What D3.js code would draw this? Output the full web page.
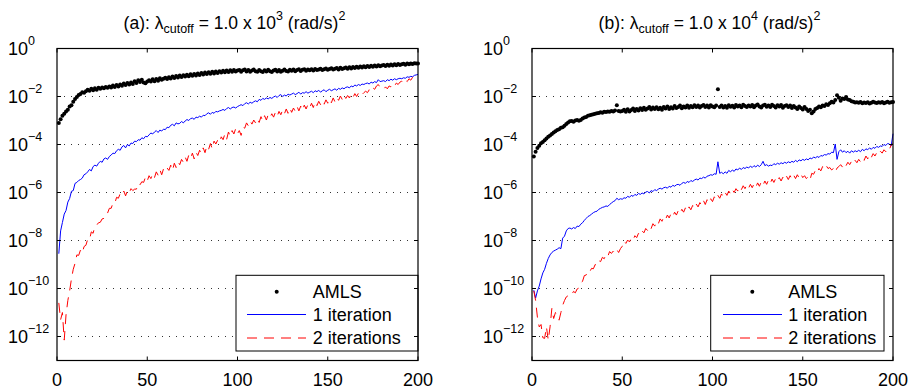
<!DOCTYPE html>
<html>
<head>
<meta charset="utf-8">
<script src="https://cdn.jsdelivr.net/npm/d3@7"></script>
<style>
  body { margin: 0; background: #fff; }
  svg { display: block; font-family: "Liberation Sans", Arial, sans-serif; }
</style>
</head>
<body>
<svg id="chart" width="908" height="392"></svg>
<script>
// log10 of the relative error, one value per mode (index 1..200)
const amlsA = [
  -3.10, -2.95, -2.80, -2.72, -2.62, -2.55, -2.42, -2.36, -2.22, -2.10,
  -2.02, -1.94, -1.90, -1.82, -1.84, -1.78, -1.72, -1.76, -1.68, -1.74,
  -1.66, -1.72, -1.64, -1.68, -1.62, -1.66, -1.60, -1.64, -1.58, -1.62,
  -1.54, -1.60, -1.52, -1.58, -1.50, -1.55, -1.46, -1.52, -1.44, -1.50,
  -1.42, -1.48, -1.36, -1.44, -1.32, -1.40, -1.30, -1.42, -1.45, -1.38,
  -1.32, -1.38, -1.28, -1.36, -1.27, -1.34, -1.24, -1.30, -1.26, -1.22,
  -1.27, -1.20, -1.25, -1.17, -1.23, -1.15, -1.21, -1.13, -1.19, -1.11,
  -1.17, -1.09, -1.16, -1.07, -1.14, -1.06, -1.12, -1.04, -1.10, -1.02,
  -1.08, -1.00, -1.06, -0.99, -1.05, -0.97, -1.04, -0.96, -1.02, -0.95,
  -1.00, -0.93, -0.99, -0.92, -0.98, -0.91, -0.97, -0.90, -0.96, -0.92,
  -0.90, -0.97, -0.91, -0.88, -0.96, -0.90, -0.97, -0.92, -0.88, -0.95,
  -0.97, -0.90, -0.95, -0.98, -0.91, -0.96, -0.89, -0.95, -0.98, -0.92,
  -0.89, -0.96, -0.90, -0.97, -0.93, -0.88, -0.94, -0.96, -0.89, -0.93,
  -0.88, -0.95, -0.90, -0.86, -0.94, -0.89, -0.86, -0.93, -0.88, -0.91,
  -0.86, -0.92, -0.85, -0.90, -0.87, -0.84, -0.90, -0.86, -0.83, -0.89,
  -0.85, -0.82, -0.88, -0.84, -0.81, -0.87, -0.80, -0.85, -0.82, -0.79,
  -0.84, -0.78, -0.83, -0.77, -0.81, -0.76, -0.80, -0.75, -0.79, -0.74,
  -0.78, -0.73, -0.77, -0.72, -0.76, -0.71, -0.75, -0.70, -0.74, -0.71,
  -0.69, -0.73, -0.68, -0.72, -0.67, -0.71, -0.66, -0.70, -0.65, -0.69,
  -0.66, -0.64, -0.68, -0.63, -0.66, -0.62, -0.65, -0.61, -0.63, -0.62
];
const iter1A = [
  -8.55, -7.60, -7.25, -6.90, -6.75, -6.40, -6.25, -5.95, -5.92, -5.62,
  -5.58, -5.50, -5.46, -5.40, -5.26, -5.22, -5.14, -5.04, -5.10, -4.92,
  -4.86, -4.90, -4.78, -4.70, -4.74, -4.60, -4.56, -4.62, -4.50, -4.44,
  -4.36, -4.38, -4.26, -4.20, -4.24, -4.10, -4.04, -4.14, -4.00, -4.06,
  -3.94, -3.96, -3.86, -3.88, -3.80, -3.82, -3.72, -3.76, -3.66, -3.68,
  -3.60, -3.52, -3.56, -3.48, -3.42, -3.50, -3.40, -3.44, -3.36, -3.38,
  -3.28, -3.30, -3.20, -3.16, -3.22, -3.10, -3.14, -3.12, -3.04, -3.10,
  -3.02, -2.96, -3.00, -2.92, -2.90, -2.95, -2.86, -2.88, -2.82, -2.86,
  -2.78, -2.80, -2.72, -2.68, -2.74, -2.66, -2.70, -2.62, -2.64, -2.60,
  -2.58, -2.54, -2.58, -2.50, -2.46, -2.52, -2.46, -2.44, -2.48, -2.42,
  -2.38, -2.34, -2.38, -2.30, -2.26, -2.31, -2.24, -2.28, -2.22, -2.18,
  -2.22, -2.12, -2.16, -2.08, -2.12, -2.06, -2.10, -2.04, -2.08, -2.02,
  -1.98, -2.04, -1.96, -1.92, -2.00, -1.94, -1.98, -1.90, -1.94, -1.90,
  -1.86, -1.92, -1.88, -1.82, -1.90, -1.84, -1.86, -1.80, -1.86, -1.82,
  -1.78, -1.84, -1.76, -1.80, -1.74, -1.82, -1.76, -1.72, -1.80, -1.74,
  -1.70, -1.76, -1.72, -1.68, -1.74, -1.66, -1.70, -1.64, -1.68, -1.62,
  -1.60, -1.64, -1.56, -1.60, -1.52, -1.56, -1.50, -1.54, -1.48, -1.50,
  -1.46, -1.44, -1.48, -1.40, -1.44, -1.38, -1.42, -1.30, -1.38, -1.36,
  -1.34, -1.38, -1.30, -1.34, -1.28, -1.32, -1.26, -1.30, -1.26, -1.24,
  -1.26, -1.22, -1.24, -1.18, -1.20, -1.16, -1.18, -1.12, -1.10, -1.08
];
const iter2A = [
  -10.60, -11.30, -11.00, -12.15, -11.10, -10.50, -10.10, -9.60, -9.20, -8.95,
  -8.60, -8.62, -8.40, -8.52, -8.25, -8.20, -7.95, -7.98, -7.64, -7.70,
  -7.40, -7.36, -7.26, -7.24, -7.10, -7.08, -6.88, -6.86, -6.66, -6.66,
  -6.44, -6.46, -6.20, -6.24, -6.05, -6.12, -5.94, -6.14, -5.92, -6.02,
  -5.84, -5.92, -5.86, -5.86, -5.62, -5.68, -5.55, -5.58, -5.36, -5.52,
  -5.30, -5.42, -5.22, -5.38, -5.14, -5.28, -5.05, -5.26, -5.02, -5.12,
  -4.98, -5.08, -4.86, -5.08, -4.78, -4.96, -4.72, -4.84, -4.62, -4.74,
  -4.52, -4.70, -4.44, -4.58, -4.36, -4.60, -4.32, -4.46, -4.24, -4.38,
  -4.14, -4.34, -4.06, -4.20, -3.96, -4.18, -3.86, -3.98, -3.82, -3.92,
  -3.68, -3.80, -3.56, -3.78, -3.48, -3.66, -3.42, -3.56, -3.34, -3.55,
  -3.42, -3.62, -3.28, -3.32, -3.10, -3.22, -3.02, -3.15, -2.98, -3.10,
  -2.92, -3.08, -2.84, -3.02, -2.80, -2.98, -2.76, -2.88, -2.72, -2.86,
  -2.66, -2.82, -2.62, -2.76, -2.56, -2.72, -2.52, -2.70, -2.48, -2.66,
  -2.48, -2.62, -2.42, -2.60, -2.40, -2.58, -2.36, -2.52, -2.34, -2.48,
  -2.28, -2.46, -2.22, -2.38, -2.20, -2.34, -2.18, -2.32, -2.14, -2.28,
  -2.10, -2.26, -2.06, -2.22, -2.04, -2.16, -1.98, -2.12, -1.94, -2.08,
  -1.96, -2.06, -1.90, -2.04, -1.88, -2.00, -1.86, -1.98, -1.92, -1.84,
  -1.78, -1.84, -1.72, -1.80, -1.64, -1.70, -1.56, -1.50, -1.62, -1.68,
  -1.70, -1.60, -1.68, -1.56, -1.60, -1.48, -1.56, -1.44, -1.50, -1.40,
  -1.36, -1.44, -1.32, -1.38, -1.26, -1.32, -1.20, -1.24, -1.14, -1.11
];
const amlsB = [
  -4.50, -4.30, -4.15, -4.05, -3.95, -3.90, -3.82, -3.75, -3.68, -3.62,
  -3.56, -3.50, -3.45, -3.40, -3.36, -3.30, -3.28, -3.22, -3.15, -3.08,
  -3.03, -3.02, -3.05, -3.00, -2.98, -3.01, -2.98, -2.92, -2.88, -2.85,
  -2.80, -2.78, -2.76, -2.74, -2.72, -2.70, -2.69, -2.66, -2.68, -2.64,
  -2.65, -2.62, -2.64, -2.60, -2.62, -2.58, -2.36, -2.60, -2.62, -2.60,
  -2.55, -2.64, -2.53, -2.62, -2.56, -2.50, -2.60, -2.52, -2.58, -2.49,
  -2.56, -2.47, -2.55, -2.50, -2.44, -2.54, -2.46, -2.52, -2.45, -2.53,
  -2.47, -2.55, -2.44, -2.50, -2.42, -2.52, -2.45, -2.50, -2.40, -2.48,
  -2.44, -2.38, -2.49, -2.42, -2.46, -2.38, -2.47, -2.40, -2.45, -2.36,
  -2.44, -2.38, -2.46, -2.40, -2.35, -2.44, -2.38, -2.46, -2.36, -2.42,
  -2.45, -2.37, -1.70, -2.44, -2.38, -2.46, -2.40, -2.47, -2.36, -2.43,
  -2.39, -2.46, -2.35, -2.42, -2.38, -2.45, -2.34, -2.40, -2.44, -2.37,
  -2.42, -2.35, -2.45, -2.38, -2.33, -2.42, -2.46, -2.37, -2.34, -2.43,
  -2.38, -2.44, -2.34, -2.40, -2.46, -2.36, -2.42, -2.35, -2.47, -2.40,
  -2.36, -2.44, -2.38, -2.48, -2.40, -2.46, -2.52, -2.42, -2.48, -2.54,
  -2.44, -2.52, -2.60, -2.55, -2.70, -2.62, -2.52, -2.48, -2.42, -2.45,
  -2.38, -2.40, -2.32, -2.35, -2.28, -2.22, -2.25, -2.15, -1.95, -2.05,
  -2.18, -2.08, -2.10, -2.02, -2.12, -2.15, -2.20, -2.22, -2.25, -2.24,
  -2.26, -2.23, -2.28, -2.25, -2.27, -2.24, -2.29, -2.26, -2.22, -2.25,
  -2.27, -2.24, -2.26, -2.23, -2.28, -2.25, -2.22, -2.26, -2.24, -2.23
];
const iter1B = [
  -10.07, -10.40, -10.10, -9.90, -9.60, -9.35, -9.20, -8.95, -8.75, -8.60,
  -8.50, -8.44, -8.40, -8.36, -8.30, -8.34, -7.90, -7.82, -7.60, -7.50,
  -7.48, -7.52, -7.46, -7.50, -7.40, -7.42, -7.32, -7.26, -7.16, -7.08,
  -7.00, -6.96, -6.90, -6.84, -6.80, -6.78, -6.70, -6.66, -6.62, -6.60,
  -6.56, -6.58, -6.50, -6.44, -6.38, -6.34, -6.24, -6.30, -6.26, -6.28,
  -6.22, -6.24, -6.16, -6.20, -6.12, -6.16, -6.08, -6.12, -6.04, -6.08,
  -6.02, -6.06, -5.98, -5.96, -6.02, -5.92, -5.96, -5.88, -5.92, -5.86,
  -5.82, -5.86, -5.80, -5.78, -5.82, -5.74, -5.78, -5.70, -5.74, -5.68,
  -5.66, -5.70, -5.62, -5.58, -5.62, -5.54, -5.58, -5.50, -5.54, -5.48,
  -5.44, -5.48, -5.40, -5.42, -5.36, -5.40, -5.32, -5.30, -5.26, -5.28,
  -5.22, -5.24, -4.72, -5.20, -5.16, -5.22, -5.14, -5.20, -5.08, -5.14,
  -5.06, -5.12, -5.02, -5.06, -4.98, -5.04, -4.96, -5.00, -4.94, -4.98,
  -4.90, -4.96, -4.88, -4.94, -4.86, -4.92, -4.84, -4.70, -4.88, -4.84,
  -4.90, -4.86, -4.88, -4.80, -4.84, -4.78, -4.82, -4.76, -4.80, -4.74,
  -4.78, -4.72, -4.76, -4.70, -4.74, -4.66, -4.72, -4.64, -4.68, -4.62,
  -4.66, -4.60, -4.64, -4.56, -4.60, -4.52, -4.56, -4.50, -4.54, -4.46,
  -4.48, -4.42, -4.44, -4.38, -4.40, -4.32, -4.34, -3.98, -4.62, -4.30,
  -4.22, -4.32, -4.26, -4.34, -4.28, -4.36, -4.26, -4.32, -4.26, -4.30,
  -4.24, -4.30, -4.20, -4.26, -4.18, -4.22, -4.14, -4.20, -4.12, -4.16,
  -4.08, -4.12, -4.06, -4.08, -4.00, -4.04, -3.96, -3.98, -4.06, -3.55
];
const iter2B = [
  -10.10, -10.50, -11.20, -11.60, -11.50, -12.05, -12.08, -11.60, -12.15, -11.60,
  -10.83, -11.25, -11.00, -11.10, -11.32, -11.00, -10.70, -10.50, -10.35, -10.30,
  -10.22, -10.26, -10.12, -10.18, -10.02, -9.98, -9.78, -9.70, -9.46, -9.44,
  -9.26, -9.30, -9.16, -9.18, -9.00, -9.04, -8.84, -8.88, -8.70, -8.76,
  -8.58, -8.66, -8.46, -8.54, -8.44, -8.52, -8.38, -8.50, -8.34, -8.24,
  -8.02, -8.12, -7.98, -8.06, -7.90, -7.98, -7.80, -7.88, -7.70, -7.78,
  -7.60, -7.68, -7.50, -7.58, -7.40, -7.50, -7.30, -7.40, -7.20, -7.30,
  -7.10, -7.20, -7.02, -7.12, -6.94, -7.06, -6.88, -7.00, -6.82, -6.94,
  -6.76, -6.88, -6.70, -6.82, -6.64, -6.78, -6.60, -6.72, -6.54, -6.66,
  -6.48, -6.60, -6.42, -6.54, -6.34, -6.50, -6.30, -6.44, -6.26, -6.38,
  -6.18, -6.30, -6.12, -6.24, -6.06, -6.18, -6.00, -6.12, -5.94, -6.06,
  -5.88, -6.00, -5.84, -5.94, -5.76, -5.88, -5.72, -5.84, -5.68, -5.82,
  -5.66, -5.80, -5.64, -5.78, -5.60, -5.74, -5.56, -5.70, -5.52, -5.66,
  -5.48, -5.62, -5.44, -5.58, -5.42, -5.54, -5.38, -5.52, -5.36, -5.48,
  -5.32, -5.46, -5.30, -5.44, -5.28, -5.42, -5.26, -5.40, -5.24, -5.38,
  -5.30, -5.42, -5.34, -5.48, -5.20, -5.24, -5.08, -5.18, -5.00, -5.10,
  -4.92, -5.02, -4.88, -5.00, -4.96, -5.06, -5.00, -5.16, -4.98, -4.92,
  -4.84, -4.94, -4.78, -4.88, -4.74, -4.84, -4.70, -4.80, -4.66, -4.76,
  -4.62, -4.72, -4.56, -4.66, -4.48, -4.60, -4.42, -4.54, -4.38, -4.48,
  -4.34, -4.42, -4.28, -4.36, -4.22, -4.30, -4.14, -4.20, -4.03, -3.96
];

const xTicks = [0, 50, 100, 150, 200];
const yTickExps = [0, -2, -4, -6, -8, -10, -12];
const legendLabels = ["AMLS", "1 iteration", "2 iterations"];
const titleA = ["(a): λ", "cutoff", " = 1.0 x 10", "3", " (rad/s)", "2"];
const titleB = ["(b): λ", "cutoff", " = 1.0 x 10", "4", " (rad/s)", "2"];

const svg = d3.select("#chart");
const plotTop = 48.5, plotBottom = 360.5;
const blue = "#0000ff", red = "#ff0000";

const panels = [
  { left: 57, right: 418, title: titleA, amls: amlsA, it1: iter1A, it2: iter2A,
    legend: { x: 236, w: 182, lineX: 247, dotX: 276.7, textX: 312.7 } },
  { left: 532, right: 893, title: titleB, amls: amlsB, it1: iter1B, it2: iter2B,
    legend: { x: 710.7, w: 173.3, lineX: 723, dotX: 752.3, textX: 788.3 } }
];

const y = d3.scaleLog().domain([1e-13, 1]).range([plotBottom, plotTop]);

panels.forEach(p => {
  const x = d3.scaleLinear().domain([0, 200]).range([p.left, p.right]);
  const g = svg.append("g");
  const toPts = arr => arr.map((v, i) => ({ n: i + 1, v: Math.pow(10, v) }));

  // dotted grid lines
  g.selectAll(".grid")
    .data(yTickExps.filter(e => e < 0))
    .join("line")
    .attr("x1", p.left).attr("x2", p.right)
    .attr("y1", d => y(Math.pow(10, d))).attr("y2", d => y(Math.pow(10, d)))
    .attr("stroke", "#333").attr("stroke-width", 1)
    .attr("stroke-dasharray", "1,6");

  // AMLS dots
  g.selectAll(".dot")
    .data(toPts(p.amls))
    .join("circle")
    .attr("cx", d => x(d.n)).attr("cy", d => y(d.v))
    .attr("r", 2).attr("fill", "#000");

  const line = d3.line().x(d => x(d.n)).y(d => y(d.v));

  g.append("path")
    .attr("d", line(toPts(p.it1)))
    .attr("fill", "none").attr("stroke", blue).attr("stroke-width", 1);

  g.append("path")
    .attr("d", line(toPts(p.it2)))
    .attr("fill", "none").attr("stroke", red).attr("stroke-width", 1)
    .attr("stroke-dasharray", "10,7");

  // legend
  const lg = p.legend;
  g.append("rect")
    .attr("x", lg.x).attr("y", 275.3).attr("width", lg.w).attr("height", 75.7)
    .attr("fill", "#fff").attr("stroke", "#000").attr("stroke-width", 1);
  const rows = [291.7, 314.5, 338];
  g.append("circle").attr("cx", lg.dotX).attr("cy", rows[0]).attr("r", 2).attr("fill", "#000");
  g.append("line").attr("x1", lg.lineX).attr("x2", lg.lineX + 59)
    .attr("y1", rows[1]).attr("y2", rows[1]).attr("stroke", blue);
  g.append("line").attr("x1", lg.lineX).attr("x2", lg.lineX + 59)
    .attr("y1", rows[2]).attr("y2", rows[2]).attr("stroke", red)
    .attr("stroke-dasharray", "10,7");
  legendLabels.forEach((t, i) => {
    g.append("text").attr("x", lg.textX).attr("y", rows[i] + 6)
      .attr("font-size", 18).text(t);
  });

  // axes box with inward ticks
  g.append("rect")
    .attr("x", p.left).attr("y", plotTop)
    .attr("width", p.right - p.left).attr("height", plotBottom - plotTop)
    .attr("fill", "none").attr("stroke", "#000").attr("stroke-width", 1.2);

  xTicks.forEach(t => {
    g.append("line").attr("x1", x(t)).attr("x2", x(t)).attr("y1", plotBottom).attr("y2", plotBottom - 4).attr("stroke", "#000");
    g.append("line").attr("x1", x(t)).attr("x2", x(t)).attr("y1", plotTop).attr("y2", plotTop + 4).attr("stroke", "#000");
    g.append("text").attr("x", x(t)).attr("y", 386)
      .attr("text-anchor", "middle").attr("font-size", 18).text(t);
  });

  yTickExps.forEach(e => {
    const yy = y(Math.pow(10, e));
    g.append("line").attr("x1", p.left).attr("x2", p.left + 4).attr("y1", yy).attr("y2", yy).attr("stroke", "#000");
    g.append("line").attr("x1", p.right).attr("x2", p.right - 4).attr("y1", yy).attr("y2", yy).attr("stroke", "#000");
    const lab = g.append("text").attr("x", p.left - 49).attr("y", yy + 6.5).attr("font-size", 18);
    lab.append("tspan").text("10");
    lab.append("tspan").attr("font-size", 12.5).attr("dy", -10.5)
      .text(e === 0 ? "0" : "\u2212" + Math.abs(e));
  });

  // title with sub/superscripts
  const tt = g.append("text")
    .attr("x", (p.left + p.right) / 2 - 3).attr("y", 29)
    .attr("text-anchor", "middle").attr("font-size", 17.5);
  tt.append("tspan").text(p.title[0]);
  tt.append("tspan").attr("font-size", 12.5).attr("dy", 4).text(p.title[1]);
  tt.append("tspan").attr("dy", -4).text(p.title[2]);
  tt.append("tspan").attr("font-size", 12.5).attr("dy", -9).text(p.title[3]);
  tt.append("tspan").attr("dy", 9).text(p.title[4]);
  tt.append("tspan").attr("font-size", 12.5).attr("dy", -9).text(p.title[5]);
});
</script>
</body>
</html>
